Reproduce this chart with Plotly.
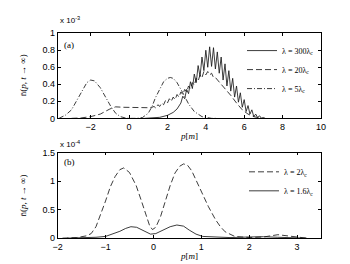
import plotly.graph_objects as go

# ---------------- Data (panel a, units of 1e-3) ----------------
a_solid_p = [0.8, 1.2, 1.6, 2.0, 2.3, 2.5, 2.6,
             2.7, 2.8, 2.9, 3.0, 3.1, 3.2, 3.3, 3.4, 3.5, 3.6, 3.7, 3.8, 3.9, 4.0,
             4.1, 4.2, 4.3, 4.4, 4.5, 4.6, 4.7, 4.8, 4.9, 5.0, 5.1, 5.2, 5.3, 5.4,
             5.5, 5.6, 5.7, 5.8, 5.9, 6.0, 6.1, 6.2, 6.3, 6.4, 6.5, 6.6, 6.7, 6.8,
             6.9, 7.0, 7.1]
a_solid_n = [0.0, 0.003, 0.012, 0.035, 0.07, 0.11, 0.14,
             0.18, 0.26, 0.23, 0.34, 0.29, 0.43, 0.35, 0.52, 0.42, 0.62, 0.49, 0.72, 0.56, 0.80,
             0.60, 0.84, 0.61, 0.83, 0.58, 0.78, 0.53, 0.72, 0.45, 0.64, 0.38, 0.56, 0.32, 0.47,
             0.25, 0.38, 0.19, 0.30, 0.13, 0.22, 0.08, 0.15, 0.05, 0.10, 0.02, 0.05, 0.01, 0.03,
             0.0, 0.01, 0.0]

a_dash_p = [-3.0, -2.5, -2.0, -1.5, -1.0, -0.7, -0.3, 0.0, 0.5, 1.0, 1.2,
            1.3, 1.4, 1.5, 1.6, 1.7, 1.8, 1.9, 2.0, 2.1, 2.2, 2.3, 2.4, 2.5, 2.6,
            2.7, 2.8, 2.9, 3.0, 3.1, 3.2, 3.3, 3.4, 3.5, 3.6, 3.7, 3.8, 3.9, 4.0,
            4.1, 4.2, 4.3, 4.4, 4.5, 4.8, 5.0, 5.3, 5.6, 5.9, 6.2, 6.5, 6.8, 7.0]
a_dash_n = [0.0, 0.005, 0.02, 0.05, 0.11, 0.135, 0.13, 0.128, 0.125, 0.125, 0.13,
            0.14, 0.12, 0.16, 0.14, 0.18, 0.16, 0.21, 0.18, 0.23, 0.20, 0.25, 0.22, 0.28, 0.25,
            0.31, 0.28, 0.34, 0.31, 0.38, 0.35, 0.42, 0.39, 0.47, 0.44, 0.51, 0.48, 0.55, 0.51,
            0.55, 0.51, 0.53, 0.48, 0.48, 0.40, 0.35, 0.27, 0.18, 0.10, 0.05, 0.02, 0.005, 0.0]

a_dd_p = [-3.65, -3.3, -3.0, -2.7, -2.4, -2.2, -2.0, -1.8, -1.5, -1.2, -0.95, -0.7, -0.45,
          -0.2, 0.0, 0.4, 0.7, 1.0, 1.2, 1.37, 1.6, 1.8, 2.0, 2.15, 2.3, 2.5, 2.8, 3.1,
          3.4, 3.8, 4.3, 4.6]
a_dd_n = [0.0, 0.04, 0.1, 0.22, 0.35, 0.42, 0.45, 0.44, 0.36, 0.24, 0.14, 0.06, 0.02,
          0.005, 0.0, 0.0, 0.01, 0.06, 0.14, 0.24, 0.35, 0.43, 0.47, 0.48, 0.47, 0.42, 0.30, 0.17,
          0.08, 0.02, 0.0, 0.0]

# ---------------- Data (panel b, units of 1e-4) ----------------
b_dash_p = [-1.9, -1.6, -1.4, -1.3, -1.2, -1.1, -1.0, -0.9, -0.8, -0.7, -0.62, -0.5, -0.36,
            -0.25, -0.16, -0.08, -0.02, 0.05, 0.15, 0.25, 0.35, 0.45, 0.55, 0.63, 0.71,
            0.8, 0.9, 1.03, 1.15, 1.3, 1.4, 1.5, 1.7, 2.0, 2.3, 2.6, 2.85, 3.2]
b_dash_n = [0.0, 0.01, 0.04, 0.08, 0.2, 0.42, 0.65, 0.9, 1.08, 1.2, 1.23, 1.15, 0.92,
            0.65, 0.4, 0.22, 0.15, 0.19, 0.38, 0.65, 0.92, 1.14, 1.26, 1.3, 1.28,
            1.18, 1.0, 0.76, 0.55, 0.32, 0.2, 0.11, 0.03, 0.01, 0.02, 0.06, 0.03, 0.0]

b_solid_p = [-1.8, -1.4, -1.2, -1.0, -0.85, -0.7, -0.58, -0.47, -0.35, -0.2, -0.06,
             0.05, 0.2, 0.35, 0.49, 0.63, 0.75, 0.89, 1.03, 1.3, 1.6, 2.0, 2.3, 2.6, 3.0, 3.2]
b_solid_n = [0.0, 0.005, 0.015, 0.03, 0.07, 0.12, 0.17, 0.2, 0.19, 0.13, 0.07,
             0.08, 0.14, 0.2, 0.23, 0.21, 0.14, 0.07, 0.03, 0.015, 0.01, 0.02, 0.025, 0.015, 0.005, 0.0]

a_xticks = [-2, 0, 2, 4, 6, 8, 10]
a_yticks = [0, 0.2, 0.4, 0.6, 0.8, 1]
a_yticklabels = ["0", "0.2", "0.4", "0.6", "0.8", "1"]
b_xticks = [-2, -1, 0, 1, 2, 3]
b_yticks = [0, 0.5, 1, 1.5]
b_yticklabels = ["0", "0.5", "1", "1.5"]

a_names = ["λ = 300λ<sub>c</sub>", "λ = 20λ<sub>c</sub>", "λ = 5λ<sub>c</sub>"]
b_names = ["λ = 2λ<sub>c</sub>", "λ = 1.6λ<sub>c</sub>"]

W, H = 350, 264
LW = 0.85
LC = "#1a1a1a"
DASH = "6px,3px"
DASHDOT = "5px,2px,1px,2px"

fig = go.Figure()
fig.add_trace(go.Scatter(x=a_solid_p, y=a_solid_n, mode="lines", name=a_names[0],
                         line=dict(color=LC, width=LW), xaxis="x", yaxis="y", legend="legend"))
fig.add_trace(go.Scatter(x=a_dash_p, y=a_dash_n, mode="lines", name=a_names[1],
                         line=dict(color=LC, width=LW, dash=DASH), xaxis="x", yaxis="y", legend="legend"))
fig.add_trace(go.Scatter(x=a_dd_p, y=a_dd_n, mode="lines", name=a_names[2],
                         line=dict(color=LC, width=LW, dash=DASHDOT), xaxis="x", yaxis="y", legend="legend"))
fig.add_trace(go.Scatter(x=b_dash_p, y=b_dash_n, mode="lines", name=b_names[0],
                         line=dict(color=LC, width=LW, dash=DASH), xaxis="x2", yaxis="y2", legend="legend2"))
fig.add_trace(go.Scatter(x=b_solid_p, y=b_solid_n, mode="lines", name=b_names[1],
                         line=dict(color=LC, width=LW), xaxis="x2", yaxis="y2", legend="legend2"))

xd = [46 / W, 317 / W]
ax_common = dict(showline=True, linecolor="black", linewidth=0.8, mirror="allticks",
                 ticks="inside", ticklen=3, tickcolor="black", tickwidth=0.8,
                 showgrid=False, zeroline=False,
                 tickfont=dict(family="Liberation Sans, Arial", size=9, color="black"))

fig.update_layout(
    width=W, height=H,
    margin=dict(l=0, r=0, t=0, b=0),
    paper_bgcolor="white", plot_bgcolor="white",
    xaxis=dict(domain=xd, range=[-3.72, 10], tickvals=a_xticks, anchor="y", **ax_common),
    yaxis=dict(domain=[1 - 109.5 / H, 1 - 21 / H], range=[0, 1], tickvals=a_yticks,
               ticktext=a_yticklabels, anchor="x", **ax_common),
    xaxis2=dict(domain=xd, range=[-2, 3.5], tickvals=b_xticks, anchor="y2", **ax_common),
    yaxis2=dict(domain=[1 - 234 / H, 1 - 145 / H], range=[0, 1.5], tickvals=b_yticks,
                ticktext=b_yticklabels, anchor="x2", **ax_common),
    legend=dict(x=0.9, y=1 - 24 / H, xanchor="right", yanchor="top", bgcolor="rgba(0,0,0,0)",
                font=dict(family="Liberation Serif, DejaVu Serif", size=8, color="black"),
                itemwidth=30, tracegroupgap=0, borderwidth=0),
    legend2=dict(x=0.9, y=1 - 150 / H, xanchor="right", yanchor="top", bgcolor="rgba(0,0,0,0)",
                 font=dict(family="Liberation Serif, DejaVu Serif", size=8, color="black"),
                 itemwidth=30, tracegroupgap=0, borderwidth=0),
    showlegend=True,
)

serif = dict(family="Liberation Serif, DejaVu Serif", size=9, color="black")
sans = dict(family="Liberation Sans, Arial", size=8, color="black")
ann = [
    dict(text="x 10<sup>-3</sup>", x=46 / W, y=1 - 15 / H, xanchor="left", yanchor="bottom", font=sans),
    dict(text="x 10<sup>-4</sup>", x=46 / W, y=1 - 143 / H, xanchor="left", yanchor="bottom", font=sans),
    dict(text="(a)", x=50 / W, y=1 - 33 / H, xanchor="left", yanchor="middle", font=serif),
    dict(text="(b)", x=50 / W, y=1 - 155 / H, xanchor="left", yanchor="middle", font=serif),
    dict(text="<i>p</i>[<i>m</i>]", x=181 / W, y=1 - 128 / H, xanchor="center", yanchor="middle", font=serif),
    dict(text="<i>p</i>[<i>m</i>]", x=181 / W, y=1 - 253 / H, xanchor="center", yanchor="middle", font=serif),
    dict(text="n̄(<i>p</i>, <i>t</i> → ∞)", x=10 / W, y=1 - 65 / H, textangle=-90,
         xanchor="center", yanchor="middle", font=serif),
    dict(text="n̄(<i>p</i>, <i>t</i> → ∞)", x=10 / W, y=1 - 190 / H, textangle=-90,
         xanchor="center", yanchor="middle", font=serif),
]
for a in ann:
    a.update(xref="paper", yref="paper", showarrow=False)
fig.update_layout(annotations=ann)

fig.write_html("out.html")
